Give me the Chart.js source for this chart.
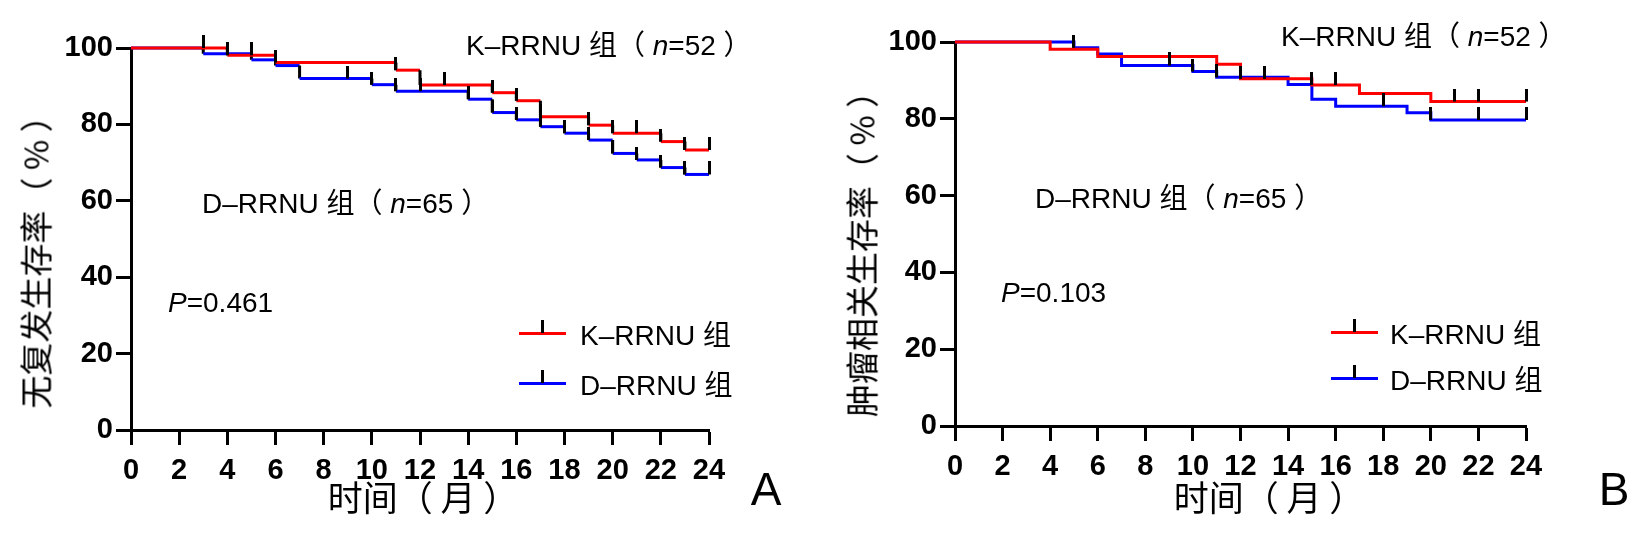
<!DOCTYPE html>
<html>
<head>
<meta charset="utf-8">
<script src="https://cdn.jsdelivr.net/npm/chart.js@4.4.1/dist/chart.umd.min.js"></script>
<style>
    body { margin: 0; background: #fff; }
    #wrap { position: relative; width: 1643px; height: 536px; overflow: hidden; background: #fff; }
    canvas { position: absolute; top: 0; }
    .t {
        position: absolute; white-space: nowrap; color: #000;
        font-family: 'Liberation Sans', Arial, 'Noto Sans CJK SC', sans-serif;
        font-size: 28px; line-height: 1; transform: translateY(-50%);
    }
    .cn { font-family: 'Noto Sans CJK SC', sans-serif; }
    .ytitle {
        position: absolute; white-space: nowrap; color: #000;
        font-family: 'Noto Sans CJK SC', sans-serif; font-size: 33px; line-height: 1;
        transform: translate(-50%, -50%) rotate(-90deg);
    }
    .xtitle {
        position: absolute; white-space: nowrap; color: #000;
        font-family: 'Noto Sans CJK SC', sans-serif; font-size: 35px; line-height: 1;
        transform: translate(-50%, -50%);
    }
    .panel {
        position: absolute; font-family: 'Liberation Sans', Arial, sans-serif;
        font-size: 46px; line-height: 1; transform: translate(-50%, -50%);
    }
    .lgline { position: absolute; width: 47px; height: 3px; }
    .lgtick { position: absolute; width: 3px; height: 13px; background: #000; }
</style>
</head>
<body>
<div id="wrap">
    <canvas id="chartA" width="800" height="536" style="left:0px"></canvas>
    <canvas id="chartB" width="823" height="536" style="left:820px"></canvas>

    <!-- panel A texts -->
    <div class="ytitle" style="left:35px; top:254px">无复发生存率（ % ）</div>
    <div class="xtitle" style="left:423px; top:495px">时间（ 月 ）</div>
    <div class="panel" style="left:766px; top:489px">A</div>
    <div class="t" style="left:466px; top:44px">K–RRNU <span class="cn">组（</span> <i>n</i>=52 <span class="cn">）</span></div>
    <div class="t" style="left:202px; top:202px">D–RRNU <span class="cn">组（</span> <i>n</i>=65 <span class="cn">）</span></div>
    <div class="t" style="left:168px; top:303px"><i>P</i>=0.461</div>
    <div class="lgline" style="left:519px; top:332px; background:#ff0000"></div>
    <div class="lgtick" style="left:541px; top:320px"></div>
    <div class="t" style="left:580px; top:334px">K–RRNU <span class="cn">组</span></div>
    <div class="lgline" style="left:519px; top:382px; background:#0000ff"></div>
    <div class="lgtick" style="left:541px; top:370px"></div>
    <div class="t" style="left:580px; top:384px">D–RRNU <span class="cn">组</span></div>

    <!-- panel B texts -->
    <div class="ytitle" style="left:861px; top:246px">肿瘤相关生存率（ % ）</div>
    <div class="xtitle" style="left:1269px; top:495px">时间（ 月 ）</div>
    <div class="panel" style="left:1614px; top:489px">B</div>
    <div class="t" style="left:1281px; top:35px">K–RRNU <span class="cn">组（</span> <i>n</i>=52 <span class="cn">）</span></div>
    <div class="t" style="left:1035px; top:197px">D–RRNU <span class="cn">组（</span> <i>n</i>=65 <span class="cn">）</span></div>
    <div class="t" style="left:1001px; top:293px"><i>P</i>=0.103</div>
    <div class="lgline" style="left:1331px; top:331px; background:#ff0000"></div>
    <div class="lgtick" style="left:1353px; top:319px"></div>
    <div class="t" style="left:1390px; top:333px">K–RRNU <span class="cn">组</span></div>
    <div class="lgline" style="left:1331px; top:377px; background:#0000ff"></div>
    <div class="lgtick" style="left:1353px; top:365px"></div>
    <div class="t" style="left:1390px; top:379px">D–RRNU <span class="cn">组</span></div>
</div>

<script>
// Panel A: recurrence-free survival (months, %)
const aKTimes = [0, 4, 6, 11, 12, 15, 16, 17, 19, 20, 22, 23];
const aKSurv = [100, 98.1, 96.2, 94.2, 90.3, 88.3, 86.2, 82.0, 79.8, 77.7, 75.5, 73.3];
const aDTimes = [0, 3, 5, 6, 7, 10, 11, 14, 15, 16, 17, 18, 19, 20, 21, 22, 23];
const aDSurv = [100, 98.5, 96.9, 95.4, 92.0, 90.4, 88.7, 86.6, 83.1, 81.2, 79.4, 77.7, 75.9, 72.4, 70.7, 68.7, 66.9];
const aKCensor = [3, 4, 5, 6, 11, 13, 15, 16, 17, 19, 20, 21, 22, 23, 24];
const aDCensor = [9, 10, 11, 12, 14, 15, 16, 17, 18, 19, 20, 21, 22, 23, 24];

// Panel B: tumour-related survival (months, %)
const bKTimes = [0, 4, 6, 11, 12, 15, 17, 20];
const bKSurv = [100, 98.1, 96.2, 94.2, 90.4, 88.8, 86.6, 84.5];
const bDTimes = [0, 5, 6, 7, 10, 11, 14, 15, 16, 19, 20];
const bDSurv = [100, 98.5, 96.9, 93.9, 92.3, 90.8, 88.9, 85.1, 83.3, 81.6, 79.7];
const bKCensor = [12, 13, 15, 16, 21, 22, 24];
const bDCensor = [5, 9, 10, 11, 18, 20, 22, 24];

const endMonth = 24;
const RED = '#ff0000';
const BLUE = '#0000ff';

// turn (time, survival) steps into explicit corner points
function makeSteps(times, surv) {
    const pts = [{ x: times[0], y: surv[0] }];
    for (let i = 1; i < times.length; i++) {
        pts.push({ x: times[i], y: surv[i - 1] });
        pts.push({ x: times[i], y: surv[i] });
    }
    pts.push({ x: endMonth, y: surv[surv.length - 1] });
    return pts;
}

function survAt(times, surv, t) {
    let v = surv[0];
    for (let i = 0; i < times.length; i++) {
        if (times[i] <= t) v = surv[i];
    }
    return v;
}

function censorPoints(times, surv, cens) {
    return cens.map(t => ({ x: t, y: survAt(times, surv, t) }));
}

// censor mark: short black stroke pointing up from the curve
const tickImg = document.createElement('canvas');
tickImg.width = 3;
tickImg.height = 26;
const tctx = tickImg.getContext('2d');
tctx.fillStyle = '#000';
tctx.fillRect(0, 0, 3, 13);

function stepDataset(pts, color, riserColor, order) {
    return {
        data: pts,
        borderColor: color,
        borderWidth: 3,
        pointRadius: 0,
        fill: false,
        order: order,
        clip: false,
        segment: {
            borderColor: c => (c.p0.parsed.x === c.p1.parsed.x ? riserColor : color)
        }
    };
}

function censorDataset(pts) {
    return {
        data: pts,
        showLine: false,
        pointStyle: tickImg,
        pointRadius: 6,
        order: 0,
        clip: false
    };
}

function axisOpts(min, max, step, size, isX) {
    return {
        type: 'linear',
        min: min,
        max: max,
        afterFit: s => { if (isX) s.height = size; else s.width = size; },
        ticks: {
            stepSize: step,
            autoSkip: false,
            maxRotation: 0,
            color: '#000',
            padding: isX ? 9 : 3,
            font: { family: "'Liberation Sans', Arial, sans-serif", size: 29, weight: 'bold' }
        },
        grid: {
            drawOnChartArea: false,
            drawTicks: true,
            tickLength: 15,
            tickWidth: 3,
            tickColor: '#000'
        },
        border: { display: true, width: 3, color: '#000' }
    };
}

function buildChart(id, kT, kS, dT, dS, kC, dC, riser, pad) {
    const el = document.getElementById(id);
    if (!el) {
        console.error('canvas not found: ' + id);
        return;
    }
    new Chart(el.getContext('2d'), {
        type: 'line',
        data: {
            datasets: [
                censorDataset(censorPoints(kT, kS, kC).concat(censorPoints(dT, dS, dC))),
                stepDataset(makeSteps(kT, kS), RED, riser || RED, 1),
                stepDataset(makeSteps(dT, dS), BLUE, riser || BLUE, 2)
            ]
        },
        options: {
            responsive: false,
            animation: false,
            layout: { padding: pad },
            plugins: {
                legend: { display: false },
                tooltip: { enabled: false }
            },
            scales: {
                x: axisOpts(0, endMonth, 2, 50, true),
                y: axisOpts(0, 100, 20, 90, false)
            }
        }
    });
}

document.addEventListener('DOMContentLoaded', function() {
    if (typeof Chart === 'undefined') {
        console.error('Chart.js is not loaded!');
        return;
    }
    // chart area A: x 131..709, y 48..430
    buildChart('chartA', aKTimes, aKSurv, aDTimes, aDSurv, aKCensor, aDCensor, '#000',
        { left: 41, right: 91, top: 48, bottom: 56 });
    // chart area B: x 955..1526, y 42..426 (canvas starts at 820)
    buildChart('chartB', bKTimes, bKSurv, bDTimes, bDSurv, bKCensor, bDCensor, null,
        { left: 45, right: 117, top: 42, bottom: 60 });
});
</script>
</body>
</html>
